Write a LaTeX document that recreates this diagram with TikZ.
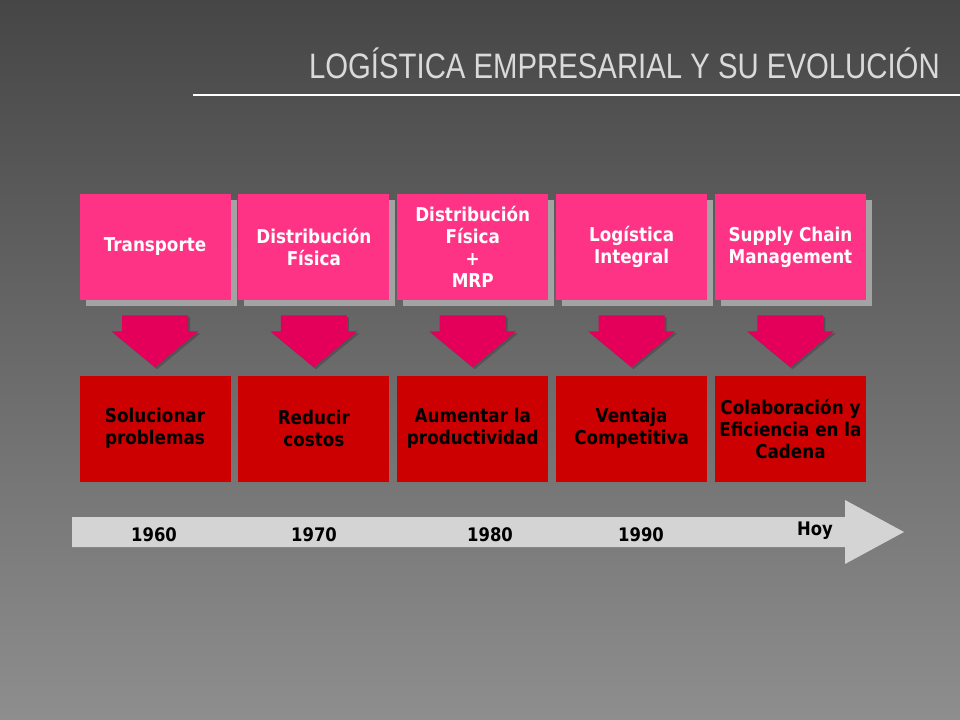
\documentclass[tikz,border=0pt]{standalone}
\usepackage{fontspec}
\setmainfont{DejaVu Sans}
\newfontfamily\boxfont[FakeStretch=0.88]{DejaVu Sans}
\newfontfamily\titlefont[FakeStretch=0.83]{Liberation Sans}
\usetikzlibrary{positioning, calc, shadows}

\definecolor{bgtop}{HTML}{464646}
\definecolor{bgbottom}{HTML}{8E8E8E}
\definecolor{stagepink}{HTML}{FF3385}
\definecolor{stageshadow}{HTML}{A3A3A3}
\definecolor{goalred}{HTML}{CC0000}
\definecolor{arrowpink}{HTML}{E4005A}
\definecolor{timegray}{HTML}{D4D4D4}
\definecolor{titlegray}{HTML}{DADADA}

\begin{document}
\begin{tikzpicture}[x=0.75pt, y=-0.75pt,
    stage/.style={rectangle, fill=stagepink, text=white, align=center, inner sep=0pt,
        minimum width=113.25pt, minimum height=79.5pt,
        font=\boxfont\bfseries\fontsize{14.3}{16.5}\selectfont,
        general shadow={fill=stageshadow, shadow xshift=4.5pt, shadow yshift=-4.5pt}},
    goal/.style={rectangle, fill=goalred, text=black, align=center, inner sep=0pt,
        minimum width=113.25pt, minimum height=79.5pt,
        font=\boxfont\bfseries\fontsize{14.3}{16.5}\selectfont},
    year/.style={font=\boxfont\bfseries\fontsize{14}{16}\selectfont, text=black}]
    % Background
    \shade[top color=bgtop, bottom color=bgbottom] (0,0) rectangle (960,720);
    \useasboundingbox (0,0) rectangle (960,720);

    % Title
    \node (title) [anchor=base east, text=titlegray, inner sep=0pt,
        font=\titlefont\fontsize{26.5}{30}\selectfont] at (940,79) {LOGÍSTICA EMPRESARIAL Y SU EVOLUCIÓN};
    \draw[white, line width=0.9pt] (193,95) -- (960,95);

    % Stages
    \node (t1) [stage] at (155,247) {Transporte};
    \node (t2) [stage, right=5.5pt of t1] {Distribución\\Física};
    \node (t3) [stage, right=5.5pt of t2] {Distribución\\Física\\+\\MRP};
    \node (t4) [stage, right=5.5pt of t3] {Logística\\Integral};
    \node (t5) [stage, right=5.5pt of t4] {Supply Chain\\Management};

    % Goals
    \node (g1) [goal, below=56.25pt of t1] {Solucionar\\problemas};
    \node (g2) [goal, below=56.25pt of t2] {Reducir\\costos};
    \node (g3) [goal, below=56.25pt of t3] {Aumentar la\\productividad};
    \node (g4) [goal, below=56.25pt of t4] {Ventaja\\Competitiva};
    \node (g5) [goal, below=56.25pt of t5] {Colaboración y\\Eficiencia en la\\Cadena};

    % Arrows
    \foreach \i in {1,...,5} {
        \fill[black, opacity=0.2] ($(t\i.south)+(-31,17)$) -- ++(66,0) -- ++(0,16) -- ++(10.5,0)
            -- ($(t\i.south)+(2,69)$) -- ($(t\i.south)+(-41.5,33)$) -- ++(10.5,0) -- cycle;
        \fill[arrowpink] ($(t\i.south)+(-33,15)$) -- ++(66,0) -- ++(0,16) -- ++(10.5,0)
            -- ($(t\i.south)+(0,67)$) -- ($(t\i.south)+(-43.5,31)$) -- ++(10.5,0) -- cycle;
    }

    % Timeline
    \fill[timegray] (72,517) -- (845,517) -- (845,500) -- (904,532) -- (845,564) -- (845,547) -- (72,547) -- cycle;
    \node (y1960) [year] at (154,535) {1960};
    \node (y1970) [year] at (314,535) {1970};
    \node (y1980) [year] at (490,535) {1980};
    \node (y1990) [year] at (641,535) {1990};
    \node (hoy) [year] at (815,531) {Hoy};
\end{tikzpicture}
\end{document}
